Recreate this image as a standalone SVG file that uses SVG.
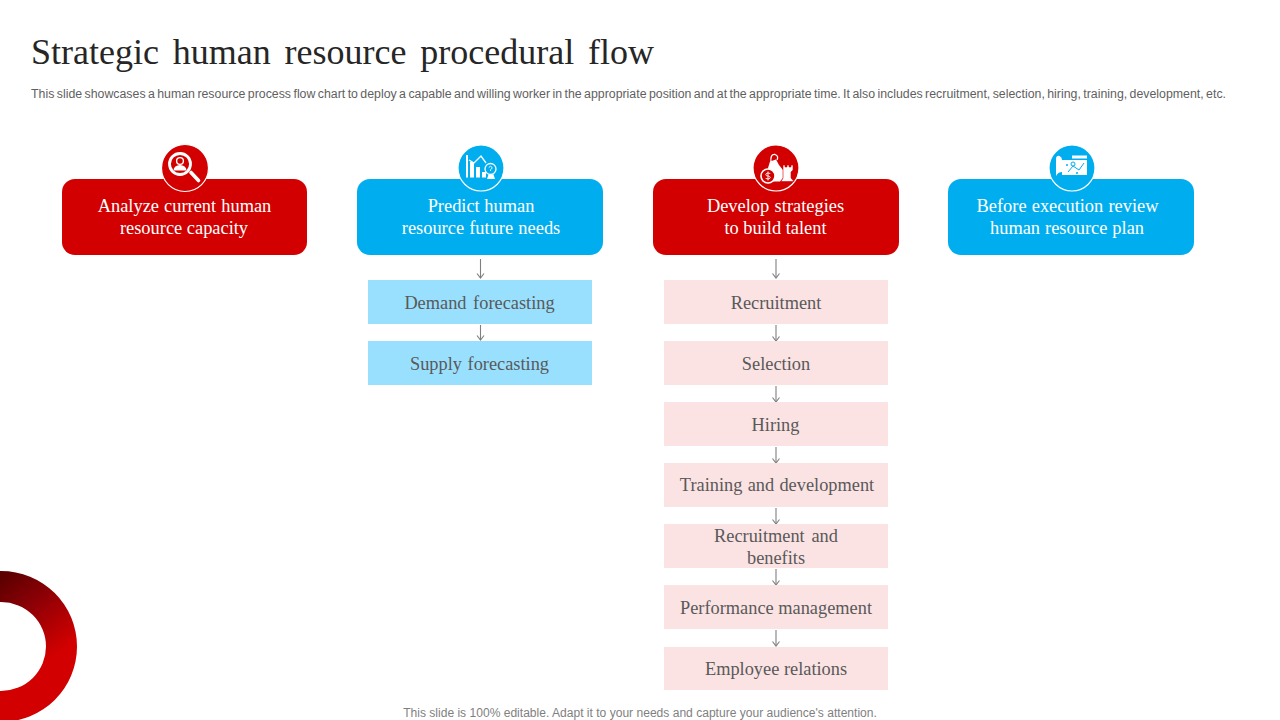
<svg xmlns="http://www.w3.org/2000/svg" width="1280" height="720" viewBox="0 0 1280 720">
<style>
.s{font-family:"Liberation Serif","Times New Roman",serif}
.a{font-family:"Liberation Sans",Arial,sans-serif}
.h{font-size:18.400px;fill:#fff;text-anchor:middle}
.b{font-size:18.350px;fill:#595959;text-anchor:middle}
.red{fill:#d20000}.blue{fill:#00aeef}
.lb{fill:#99e0ff}.lr{fill:#fbe3e4}
.c{stroke:#fff;stroke-width:1.2}
.w{fill:#fff}
.cn line{stroke:#7f7f7f;stroke-width:1.1;marker-end:url(#ar)}
</style>
<defs>
<marker id="ar" markerWidth="10" markerHeight="10" refX="8" refY="5" orient="auto" markerUnits="userSpaceOnUse"><path d="M3.500 1.500L8 5L3.500 8.500" fill="none" stroke="#7f7f7f" stroke-width="1.100"/></marker>
<linearGradient id="rg" gradientUnits="userSpaceOnUse" x1="5" y1="575" x2="62" y2="650"><stop offset="0" stop-color="#5c0000"/><stop offset="0.4" stop-color="#8a0006"/><stop offset="1" stop-color="#d20000"/></linearGradient>
</defs>
<rect width="1280" height="720" fill="#fff"/>
<g id="decor"><path fill="url(#rg)" fill-rule="evenodd" d="M1 571A76 75.500 0 0 1 1 722A76 75.500 0 0 1 1 571ZM1 602A45 44.500 0 0 0 1 691A45 44.500 0 0 0 1 602Z"/></g>
<g id="title">
<text class="s" x="31" y="64" font-size="36" fill="#262626" word-spacing="4.800">Strategic human resource procedural flow</text>
<text class="a" x="31" y="98" font-size="12" fill="#5f5f5f" word-spacing="-1" textLength="1195" lengthAdjust="spacingAndGlyphs">This slide showcases a human resource process flow chart to deploy a capable and willing worker in the appropriate position and at the appropriate time. It also includes recruitment, selection, hiring, training, development, etc.</text>
</g>
<g id="connectors" class="cn">
<line x1="480.500" y1="259" x2="480.500" y2="278"/>
<line x1="480.500" y1="325" x2="480.500" y2="340"/>
<line x1="776" y1="259" x2="776" y2="278"/>
<line x1="776" y1="325" x2="776" y2="341"/>
<line x1="776" y1="386" x2="776" y2="402"/>
<line x1="776" y1="447" x2="776" y2="463"/>
<line x1="776" y1="508" x2="776" y2="524"/>
<line x1="776" y1="569" x2="776" y2="585"/>
<line x1="776" y1="630" x2="776" y2="646"/>
</g>
<g id="n1">
<rect class="red" x="62" y="179" width="245" height="76" rx="13"/>
<circle class="red c" cx="185" cy="168" r="23.500"/>
<circle cx="180" cy="164" r="10.500" fill="none" stroke="#fff" stroke-width="2.800"/>
<circle cx="180" cy="161" r="3.400" fill="none" stroke="#fff" stroke-width="1.400"/><path class="w" d="M173.500 170.500a6.500 5.500 0 0 1 13 0Z"/>
<path d="M191 172.500L198.500 180.500" stroke="#fff" stroke-width="3.600" stroke-linecap="round"/>
<text class="s h" x="184.500" y="212" word-spacing=".5">Analyze current human</text>
<text class="s h" x="184" y="234">resource capacity</text>
</g>
<g id="n2">
<rect class="blue" x="357" y="179" width="246" height="76" rx="13"/>
<circle class="blue c" cx="481" cy="168" r="23"/>
<path class="w" d="M466 155H468V177.500H466ZM470 162H474V177.500H470ZM476 167H480V177.500H476ZM482 172H486V177.500H482ZM487 179L489 173H493L495 179Z"/>
<path d="M469 160L474 163L481 156L486 163" fill="none" stroke="#fff" stroke-width="1.300"/>
<circle cx="490.500" cy="169" r="5.500" fill="#00aeef" stroke="#fff" stroke-width="1.300"/>
<path d="M488.800 167.500Q490.500 165 492.200 167.500Q492 169 490.500 169.700V171" fill="none" stroke="#fff" stroke-width=".9"/>
<text class="s h" x="481" y="212">Predict human</text>
<text class="s h" x="481" y="234" word-spacing=".6">resource future needs</text>
</g>
<g id="n3">
<rect class="red" x="653" y="179" width="246" height="76" rx="13"/>
<circle class="red c" cx="776" cy="168" r="23"/>
<path d="M771 162Q770 154 775 154.500Q779 156 777 160" fill="none" stroke="#fff" stroke-width="1.300"/>
<path class="w" d="M770 161.500L776 159.500L779 165L783 170L783 178L780 181.500L772 181.500L768 168Z"/>
<circle cx="768" cy="176" r="7" fill="#d20000" stroke="#fff" stroke-width="1.600"/>
<path d="M770.300 173.500Q766 172.300 765.800 174.800Q766 176 768 176Q770.300 176.300 770.300 177.800Q770 179.800 765.700 178.500M768 171.500V180.500" fill="none" stroke="#fff" stroke-width=".9"/>
<path class="w" d="M783 165H785V167H787V165H789V167H791V165H793V170L791 172V178L794 181.500H781L783 178V172L783 170Z" stroke="#d20000" stroke-width=".6"/>
<text class="s h" x="775.500" y="212" word-spacing=".8">Develop strategies</text>
<text class="s h" x="775.500" y="234">to build talent</text>
</g>
<g id="n4">
<rect class="blue" x="948" y="179" width="246" height="76" rx="13"/>
<circle class="blue c" cx="1072" cy="168" r="23"/>
<path class="w" d="M1056 158Q1057 155 1059.500 156Q1062 157 1062 160H1087V175H1062V172Q1058 172 1056 176Z"/>
<rect class="w" x="1072" y="155.500" width="15" height="3"/>
<path d="M1068 172L1073 166L1079 170L1084 163" fill="none" stroke="#00aeef" stroke-width="1"/>
<circle cx="1073" cy="164" r="2" fill="none" stroke="#00aeef"/>
<circle cx="1067" cy="165" r="1" fill="#00aeef"/><circle cx="1077" cy="173" r="1" fill="#00aeef"/>
<text class="s h" x="1067.500" y="212" word-spacing=".6">Before execution review</text>
<text class="s h" x="1067" y="234" word-spacing=".4">human resource plan</text>
</g>
<g id="b1"><rect class="lb" x="368" y="280" width="224" height="44"/><text class="s b" x="479.500" y="309" word-spacing="2">Demand forecasting</text></g>
<g id="b2"><rect class="lb" x="368" y="341" width="224" height="44"/><text class="s b" x="479.500" y="370" word-spacing="1">Supply forecasting</text></g>
<g id="r1"><rect class="lr" x="664" y="280" width="224" height="44"/><text class="s b" x="776" y="309">Recruitment</text></g>
<g id="r2"><rect class="lr" x="664" y="341" width="224" height="44"/><text class="s b" x="776" y="370">Selection</text></g>
<g id="r3"><rect class="lr" x="664" y="402" width="224" height="44"/><text class="s b" x="775.500" y="431">Hiring</text></g>
<g id="r4"><rect class="lr" x="664" y="463" width="224" height="44"/><text class="s b" x="777" y="491" word-spacing=".7">Training and development</text></g>
<g id="r5"><rect class="lr" x="664" y="524" width="224" height="44"/><text class="s b" x="776" y="542" word-spacing="2.200">Recruitment and</text><text class="s b" x="776" y="564">benefits</text></g>
<g id="r6"><rect class="lr" x="664" y="585" width="224" height="44"/><text class="s b" x="776" y="614">Performance management</text></g>
<g id="r7"><rect class="lr" x="664" y="647" width="224" height="43"/><text class="s b" x="776" y="675">Employee relations</text></g>
<text id="foot" class="a" x="640" y="717" font-size="12.070" fill="#7f7f7f" text-anchor="middle">This slide is 100% editable. Adapt it to your needs and capture your audience's attention.</text>
</svg>
